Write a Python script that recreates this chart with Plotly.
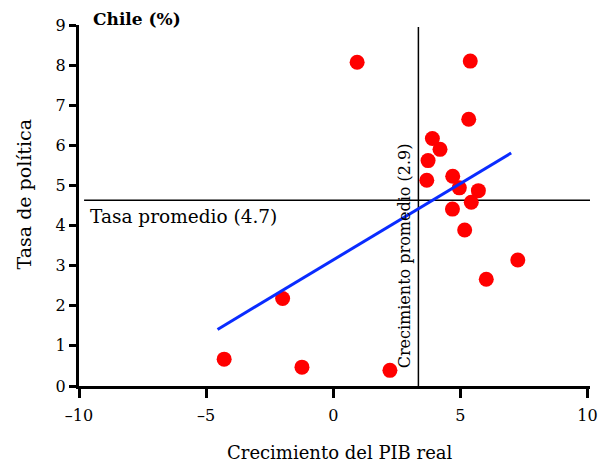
import plotly.graph_objects as go

# Data
gdp_growth = [0.94, 5.39, 5.33, 3.90, 4.20, 3.73, 3.68, 4.70, 4.96, 5.71, 5.43, 4.69,
              5.17, 7.26, 6.02, 2.23, -1.23, -4.29, -1.99]
policy_rate = [8.07, 8.10, 6.65, 6.17, 5.90, 5.62, 5.13, 5.23, 4.94, 4.87, 4.58, 4.41,
               3.89, 3.14, 2.66, 0.39, 0.47, 0.67, 2.18]
fit_x = [-4.55, 7.0]
fit_y = [1.41, 5.81]
mean_growth = 3.35
mean_rate = 4.63
hline_x = [-9.8, 10.3]
vline_y = [0, 8.95]
x_ticks = [-10, -5, 0, 5, 10]
x_labels = ["–10", "–5", "0", "5", "10"]
y_ticks = [0, 1, 2, 3, 4, 5, 6, 7, 8, 9]

FONT = "DejaVu Serif"

fig = go.Figure()
fig.add_trace(go.Scatter(x=hline_x, y=[mean_rate, mean_rate], mode="lines",
                         line=dict(color="black", width=1.5), hoverinfo="skip", cliponaxis=False))
fig.add_trace(go.Scatter(x=[mean_growth, mean_growth], y=vline_y, mode="lines",
                         line=dict(color="black", width=1.5), hoverinfo="skip", cliponaxis=False))
fig.add_trace(go.Scatter(x=gdp_growth, y=policy_rate, mode="markers",
                         marker=dict(color="#ff0000", size=15), cliponaxis=False))
fig.add_trace(go.Scatter(x=fit_x, y=fit_y, mode="lines",
                         line=dict(color="#0a2cff", width=3), cliponaxis=False))

fig.add_annotation(x=-9.6, y=mean_rate, text="Tasa promedio (4.7)", showarrow=False,
                   xanchor="left", yanchor="middle", yshift=-16, xshift=-1,
                   font=dict(family=FONT, size=18.5, color="black"))
fig.add_annotation(x=mean_growth, y=0.4, text="Crecimiento promedio (2.9)", showarrow=False,
                   xanchor="right", yanchor="bottom", textangle=-90, xshift=-2,
                   font=dict(family=FONT, size=16, color="black"))
fig.add_annotation(x=0, y=1, xref="paper", yref="paper", text="<b>Chile (%)</b>",
                   showarrow=False, xanchor="left", yanchor="top", xshift=12, yshift=18,
                   font=dict(family=FONT, size=17, color="black"))
fig.add_annotation(x=0.5, y=0, xref="paper", yref="paper", text="Crecimiento del PIB real",
                   showarrow=False, xanchor="center", yanchor="middle", yshift=-66, xshift=5,
                   font=dict(family=FONT, size=18, color="black"))
fig.add_annotation(x=0, y=0.5, xref="paper", yref="paper", text="Tasa de política",
                   showarrow=False, xanchor="center", yanchor="middle", xshift=-56, yshift=11,
                   textangle=-90, font=dict(family=FONT, size=19, color="black"))

fig.update_layout(
    width=608, height=465,
    margin=dict(l=79, r=18, t=25, b=79),
    paper_bgcolor="white", plot_bgcolor="white",
    showlegend=False,
    font=dict(family=FONT, size=16, color="black"),
)
fig.update_xaxes(range=[-10, 10.1], tickvals=x_ticks, ticktext=x_labels, automargin=False,
                 showgrid=False, zeroline=False, showline=True, linecolor="black", linewidth=3,
                 ticks="outside", ticklen=9, tickwidth=2.5, tickcolor="black",
                 ticklabelstandoff=4,
                 tickfont=dict(family=FONT, size=16))
fig.update_yaxes(range=[0, 9], tickvals=y_ticks, automargin=False,
                 showgrid=False, zeroline=False, showline=True, linecolor="black", linewidth=3,
                 ticks="outside", ticklen=7, tickwidth=2.5, tickcolor="black",
                 tickfont=dict(family=FONT, size=16))

fig.write_html("out.html")
